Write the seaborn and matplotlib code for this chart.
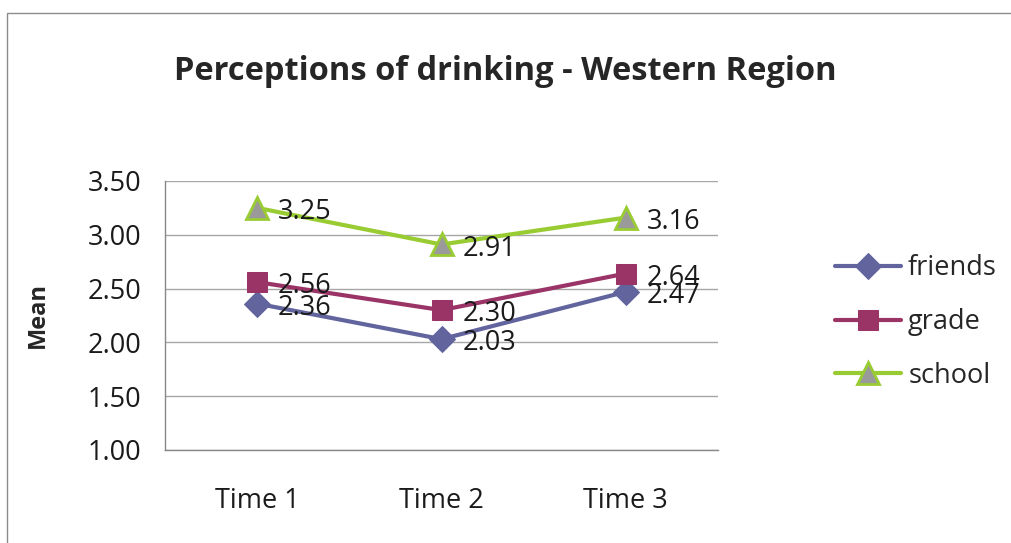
import pandas as pd
import matplotlib.pyplot as plt
import seaborn as sns
from matplotlib.patches import Rectangle

# Chart data
times = ["Time 1", "Time 2", "Time 3"]
friends = [2.36, 2.03, 2.47]
grade = [2.56, 2.30, 2.64]
school = [3.25, 2.91, 3.16]

series_names = ["friends", "grade", "school"]
y_ticks = [1.00, 1.50, 2.00, 2.50, 3.00, 3.50]

df = pd.DataFrame({
    "time": times * 3,
    "mean": friends + grade + school,
    "series": [name for name in series_names for _ in times]
})

sns.set_style("white")
plt.rcParams["font.family"] = ["Open Sans", "DejaVu Sans"]

fig = plt.figure(figsize=(10.11, 5.43), dpi=100)
ax = fig.add_axes([0.1632, 0.1713, 0.547, 0.4954])

styles = {
    "friends": dict(color="#62649E", marker="D", markersize=13,
                    markerfacecolor="#62649E", markeredgecolor="#62649E"),
    "grade": dict(color="#9B3466", marker="s", markersize=14,
                  markerfacecolor="#9B3466", markeredgecolor="#9B3466"),
    "school": dict(color="#99CC33", marker="^", markersize=16,
                   markerfacecolor="#9A9A9A", markeredgecolor="#99CC33",
                   markeredgewidth=2),
}

for name in series_names:
    sub = df[df["series"] == name]
    sns.lineplot(
        data=sub,
        x="time",
        y="mean",
        ax=ax,
        linewidth=3,
        label=name,
        **styles[name]
    )
    for t, v in zip(sub["time"], sub["mean"]):
        ax.annotate(
            f"{v:.2f}",
            xy=(times.index(t), v),
            xytext=(15, -3),
            textcoords="offset points",
            ha="left",
            va="center",
            fontsize=19.5,
            color="#1a1a1a",
        )

ax.set_xlim(-0.5, 2.5)
ax.set_ylim(1.0, 3.5)
ax.set_yticks(y_ticks)
ax.set_yticklabels([f"{v:.2f}" for v in y_ticks])
ax.yaxis.grid(True, color="#a6a6a6", linewidth=1)
ax.set_axisbelow(True)

for side in ["top", "right"]:
    ax.spines[side].set_visible(False)
for side in ["left", "bottom"]:
    ax.spines[side].set_color("#888888")
    ax.spines[side].set_linewidth(1)

ax.tick_params(axis="both", labelsize=19.5, colors="#1a1a1a", length=0)
ax.tick_params(axis="y", pad=17)
ax.tick_params(axis="x", pad=27)
ax.set_xlabel("")
ax.set_ylabel("Mean", fontsize=17, fontweight="bold", labelpad=27)

fig.text(
    0.5,
    1 - 72 / 543,
    "Perceptions of drinking - Western Region",
    ha="center",
    va="center",
    fontsize=23.5,
    fontweight="bold",
)

fig.legend(
    *ax.get_legend_handles_labels(),
    loc="center left",
    bbox_to_anchor=(835 / 1011, 1 - 322 / 543),
    frameon=False,
    fontsize=19.5,
    borderpad=0,
    borderaxespad=0,
    handlelength=2.45,
    handletextpad=0.25,
    labelspacing=0.95,
)
ax.get_legend().remove()

# outer chart frame
fig.add_artist(Rectangle(
    (7 / 1011, -0.1), 1.2, (1 - 13 / 543) + 0.1,
    transform=fig.transFigure,
    fill=False,
    edgecolor="#8c8c8c",
    linewidth=1,
))

plt.savefig("out.png", dpi=100)
plt.close()
